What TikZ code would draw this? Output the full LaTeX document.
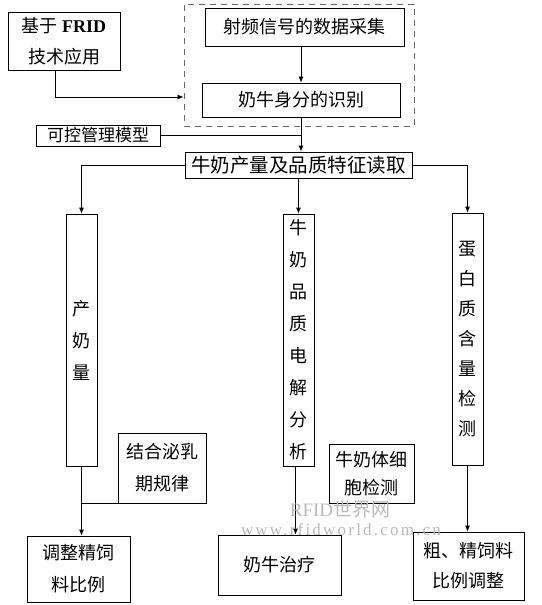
\documentclass[tikz,border=0pt]{standalone}
\usepackage{fontspec}
\setmainfont{Noto Sans CJK SC}
\newfontfamily\lat{Liberation Serif}
\newfontfamily\latw[LetterSpace=13]{Liberation Serif}
\usetikzlibrary{arrows.meta}
\tikzset{
  box/.style={draw, line width=0.8pt, inner sep=0pt, align=center, font=\fontsize{18}{31}\selectfont},
  vbox/.style={box, minimum width=31pt, minimum height=252pt, font=\fontsize{18}{32}\selectfont},
  ln/.style={line width=0.8pt},
  arr/.style={ln, -{Latex[length=6pt,width=5pt]}},
  wm/.style={text=gray!55, inner sep=0pt}
}
\begin{document}
\begin{tikzpicture}[x=1pt,y=-1pt]
\useasboundingbox (0,0) rectangle (541,605);
% group
\node[draw, dashed, dash pattern=on 6pt off 5pt, line width=0.8pt, gray!80!black, minimum width=230pt, minimum height=122pt, inner sep=0pt] (grp) at (299,65) {};
\node[box, minimum width=112pt, minimum height=58pt] (frid) at (64,41) {基于 {\lat\bfseries FRID}\\技术应用};
\node[box, minimum width=199pt, minimum height=38pt] (rf) at (304.5,27) {射频信号的数据采集};
\node[box, minimum width=198pt, minimum height=34pt] (id) at (301,100) {奶牛身分的识别};
\node[box, minimum width=124pt, minimum height=21pt, font=\fontsize{17}{20}\selectfont] (ctrl) at (98,135.5) {可控管理模型};
\node[box, minimum width=227pt, minimum height=26pt, font=\fontsize{19.5}{22}\selectfont] (read) at (298.5,165) {牛奶产量及品质特征读取};
\node[vbox] (cy) at (81.5,340) {产\\奶\\量};
\node[vbox] (pz) at (298.5,340) {牛\\奶\\品\\质\\电\\解\\分\\析};
\node[vbox, font=\fontsize{18}{30}\selectfont] (dbz) at (467.5,339) {蛋\\白\\质\\含\\量\\检\\测};
\node[box, minimum width=88pt, minimum height=70pt, font=\fontsize{18}{32}\selectfont] (jh) at (162,468) {结合泌乳\\期规律};
\node[box, minimum width=103pt, minimum height=66pt, font=\fontsize{18}{32}\selectfont] (tz) at (78.5,569) {调整精饲\\料比例};
\node[box, minimum width=85pt, minimum height=59pt, font=\fontsize{18}{28}\selectfont] (tc) at (371.5,473.5) {牛奶体细\\胞检测};
\node[box, minimum width=123pt, minimum height=60pt] (zl) at (279.5,565) {奶牛治疗};
\node[box, minimum width=111pt, minimum height=68pt, font=\fontsize{18}{30}\selectfont] (cj) at (468.5,566) {粗、精饲料\\比例调整};
% connectors
\draw[arr] ([xshift=-9pt]frid.south) |- ([yshift=-32pt]grp.west);
\draw[arr] (id.north |- rf.south) -- (id.north);
\draw[arr] (id.south) -- (id.south |- read.north);
\draw[ln] (ctrl.east) -- (ctrl.east -| id.south);
\draw[arr] (read.west) -| (cy.north);
\draw[arr] (read.east) -| (dbz.north);
\draw[arr] (read.south) -- (pz.north);
\draw[arr] (cy.south) -- (cy.south |- tz.north);
\draw[ln] (jh.south west) -- (jh.south west -| cy.south);
\draw[arr] ([xshift=-3pt]pz.south) -- ([xshift=-3pt]pz.south |- zl.north);
\draw[arr] (dbz.south) -- (dbz.south |- cj.north);
% watermark
\node[wm, font=\fontsize{19}{19}\selectfont] (wm1) at (340,509) {{\lat RFID}世界网};
\node[wm, font=\latw\fontsize{17}{17}\selectfont] (wm2) at (341,530) {www.rfidworld.com.cn};
\end{tikzpicture}
\end{document}
